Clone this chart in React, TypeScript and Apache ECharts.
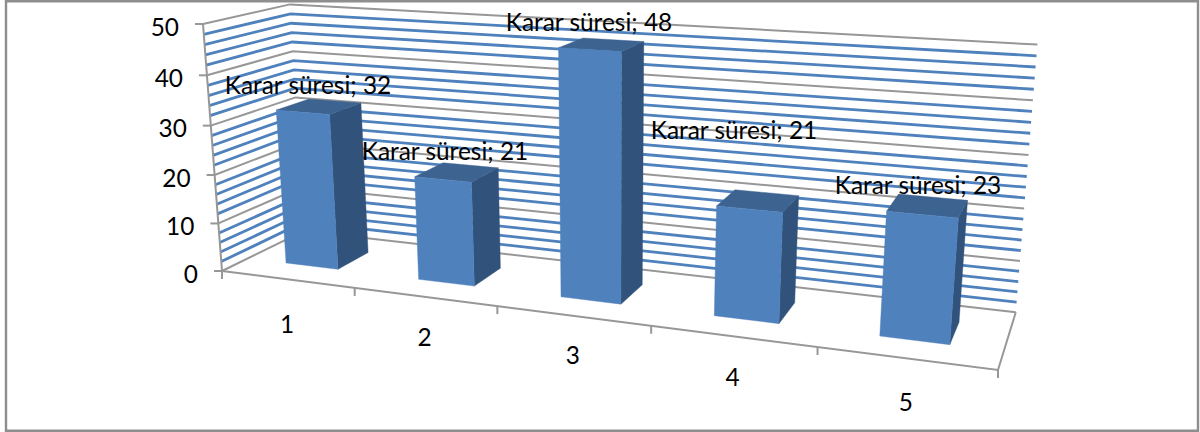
import React, { useEffect, useRef } from "react";
import * as echarts from "echarts";

const seriesName = "Karar süresi";
const categories = ["1", "2", "3", "4", "5"];
const barValues = [32, 21, 48, 21, 23];
const yTicks = [0, 10, 20, 30, 40, 50];
const gridValues = [0, 2, 4, 6, 8, 10, 12, 14, 16, 18, 20, 22, 24, 26, 28, 30, 32, 34, 36, 38, 40, 42, 44, 46, 48, 50];

// Perspective box: image of the unit cube, with homogeneous weights.
const O = [222, 271];
const CX = [998, 370, 0.825];
const CY = [203, 24, 0.9534];
const CZ = [303.6, 231, 1.094];
const BAR_SPAN = [0.3, 0.7];
const LABEL_ANCHORS = [[308, 84], [445, 150], [589, 21], [734, 129], [918, 184]];
const X_LABEL_DY = [44, 40, 39, 40, 43];

const FRONT = "#4f81bd";
const SIDE = "#31527a";
const TOP = "#3d6391";
const GRAY = "#979797";
const FONT = "Lato";
const FONT_SIZE = 24.4;

function project(u: number, v: number, d: number): number[] {
  const w = 1 + u * (CX[2] - 1) + v * (CY[2] - 1) + d * (CZ[2] - 1);
  const x = O[0] + u * (CX[2] * CX[0] - O[0]) + v * (CY[2] * CY[0] - O[0]) + d * (CZ[2] * CZ[0] - O[0]);
  const y = O[1] + u * (CX[2] * CX[1] - O[1]) + v * (CY[2] * CY[1] - O[1]) + d * (CZ[2] * CZ[1] - O[1]);
  return [x / w, y / w];
}

// Unit coordinates of a data point, read through the chart's own scales.
function unit(params: any, api: any, cat: number, val: number): number[] {
  const cs = params.coordSys;
  const p = api.coord([cat, val]);
  return [(p[0] - cs.x) / cs.width / 1, (cs.y + cs.height - p[1]) / cs.height];
}

function line(points: number[][], stroke: string, lineWidth: number) {
  return { type: "polyline", shape: { points }, style: { stroke, lineWidth, fill: "none" } };
}

function text(x: number, y: number, t: string, align: string) {
  return {
    type: "text",
    style: { x, y, text: t, fill: "#000", fontSize: FONT_SIZE, fontFamily: FONT, align, verticalAlign: "middle" },
  };
}

function renderGrid(params: any, api: any) {
  const [, v] = unit(params, api, 0, api.value(0) as number);
  const val = api.value(0) as number;
  const major = val % 10 === 0;
  return line(
    [project(0, v, 0), project(0, v, 1), project(1, v, 1)],
    major ? GRAY : FRONT,
    major ? 2 : 2.8,
  );
}

function renderFrame(params: any, api: any) {
  const [, vTop] = unit(params, api, 0, 50);
  const children: any[] = [
    line([project(0, 0, 0), project(0, vTop, 0)], GRAY, 2),
    line([project(0, 0, 0), project(1, 0, 0), project(1, 0, 1)], GRAY, 2),
  ];
  const tick0 = project(0, 0, 0);
  children.push(line([tick0, [tick0[0], tick0[1] + 8]], GRAY, 2));
  categories.forEach((_, i) => {
    const [u] = unit(params, api, i + 1, 0);
    const p = project(u, 0, 0);
    children.push(line([p, [p[0], p[1] + 8]], GRAY, 2));
  });
  yTicks.forEach((t) => {
    const [, v] = unit(params, api, 0, t);
    const p = project(0, v, 0);
    children.push(line([[p[0] - 8, p[1]], p], GRAY, 2));
  });
  return { type: "group", children };
}

function renderBar(params: any, api: any) {
  const i = api.value(0) as number;
  const [u0, v] = unit(params, api, i + BAR_SPAN[0], api.value(1) as number);
  const [u1] = unit(params, api, i + BAR_SPAN[1], 0);
  const [d0, d1] = BAR_SPAN;
  const poly = (points: number[][], fill: string) => ({
    type: "polygon",
    shape: { points },
    style: { fill, stroke: fill, lineWidth: 0.4 },
  });
  return {
    type: "group",
    children: [
      poly([project(u1, 0, d0), project(u1, 0, d1), project(u1, v, d1), project(u1, v, d0)], SIDE),
      poly([project(u0, v, d0), project(u1, v, d0), project(u1, v, d1), project(u0, v, d1)], TOP),
      poly([project(u0, 0, d0), project(u1, 0, d0), project(u1, v, d0), project(u0, v, d0)], FRONT),
    ],
  };
}

function renderTexts(params: any, api: any) {
  const children: any[] = [];
  yTicks.forEach((t) => {
    const [, v] = unit(params, api, 0, t);
    const p = project(0, v, 0);
    children.push(text(p[0] - 24, p[1] + 2, String(t), "right"));
  });
  categories.forEach((c, i) => {
    const [u] = unit(params, api, i + 0.5, 0);
    const p = project(u, 0, 0);
    children.push(text(p[0], p[1] + X_LABEL_DY[i], c, "center"));
  });
  barValues.forEach((b, i) => {
    children.push(text(LABEL_ANCHORS[i][0], LABEL_ANCHORS[i][1], `${seriesName}; ${b}`, "center"));
  });
  return { type: "group", children };
}

export default function App() {
  const ref = useRef<HTMLDivElement>(null);
  useEffect(() => {
    const chart = echarts.init(ref.current!, null, { renderer: "svg" });
    chart.setOption({
      animation: false,
      backgroundColor: "#fff",
      tooltip: { show: false },
      grid: { left: 0, right: 0, top: 0, bottom: 0 },
      xAxis: { type: "value", min: 0, max: categories.length, show: false },
      yAxis: { type: "value", min: 0, max: 50, interval: 10, show: false },
      graphic: [
        {
          type: "rect",
          silent: true,
          shape: { x: 6, y: 1.2, width: 1192, height: 429.6 },
          style: { fill: "none", stroke: "#8e8e8e", lineWidth: 2.4 },
          z: 100,
        },
      ],
      series: [
        { type: "custom", silent: true, clip: false, data: gridValues.map((v) => [v]), renderItem: renderGrid, z: 1 },
        { type: "custom", silent: true, clip: false, data: [[0]], renderItem: renderFrame, z: 2 },
        { type: "custom", silent: true, clip: false, name: seriesName, data: barValues.map((v, i) => [i, v]), renderItem: renderBar, z: 3 },
        { type: "custom", silent: true, clip: false, data: [[0]], renderItem: renderTexts, z: 4 },
      ],
    });
    return () => chart.dispose();
  }, []);
  return <div ref={ref} style={{ position: "absolute", left: 0, top: 0, width: 1200, height: 432 }} />;
}
